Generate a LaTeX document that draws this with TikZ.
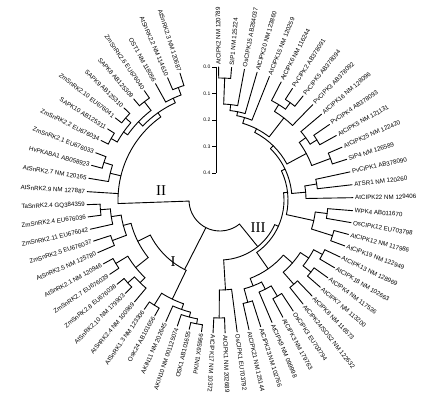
\documentclass[tikz,border=0pt]{standalone}
\usepackage{fontspec}
\setmainfont{Liberation Sans}
\newfontfamily\romanfont{Liberation Serif}
\tikzset{
 br/.style={line width=0.9pt, line cap=round},
 lab/.style={font=\fontsize{6.2}{7}\selectfont, inner sep=1pt},
 grp/.style={font=\romanfont\fontsize{15}{15}\selectfont, inner sep=0pt},
 sc/.style={font=\fontsize{5}{6}\selectfont, inner sep=1pt, anchor=east}
}
\newcommand\rad[3]{\draw[br] (#1:#2) -- (#1:#3);}
\newcommand\arcr[3]{\draw[br] (#2:#1) arc[start angle=#2, end angle=#3, radius=#1];}
\newcommand\leafW[3]{\node[lab,anchor=west,rotate=#1] (#2) at (#1:134) {#3};}
\newcommand\leafE[3]{\node[lab,anchor=east,rotate=#1-180] (#2) at (#1:134) {#3};}
\begin{document}
\begin{tikzpicture}[x=1pt,y=1pt]
\useasboundingbox (0,0) rectangle (431,402);
\begin{scope}[shift={(220,202)}]
% ---------- root ----------
\arcr{31}{182}{309}
\rad{182}{31}{102}
\rad{243}{31}{78}
\rad{309}{31}{60}
% ---------- group III ----------
\arcr{118}{267}{272.2}
\arcr{90}{269.6}{277.4} \rad{269.6}{90}{118}
\arcr{106}{282.6}{287.8}
\arcr{112}{298.2}{303.4}
\arcr{100}{293}{300.8} \rad{300.8}{100}{112}
\arcr{92}{285.2}{296.9} \rad{285.2}{92}{106} \rad{296.9}{92}{100}
\arcr{112}{308.6}{313.8}
\arcr{116}{319}{324.2}
\arcr{116}{329.4}{334.6}
\arcr{106}{321.6}{332} \rad{321.6}{106}{116} \rad{332}{106}{116}
\arcr{96}{311.2}{326.8} \rad{311.2}{96}{112} \rad{326.8}{96}{106}
\arcr{84}{291.05}{319} \rad{291.05}{84}{92} \rad{319}{84}{96}
\arcr{118}{339.8}{345}
\arcr{108}{350.2}{355.4}
\arcr{96}{342.4}{352.8} \rad{342.4}{96}{118} \rad{352.8}{96}{108}
\arcr{98}{366.6}{372.2}
\arcr{86}{361}{369.4} \rad{369.4}{86}{98}
\arcr{118}{377.8}{383.4}
\arcr{114}{389}{394.6}
\arcr{106}{391.8}{400.2} \rad{391.8}{106}{114}
\arcr{98}{380.6}{396} \rad{380.6}{98}{118} \rad{396}{98}{106}
\arcr{120}{411.4}{417}
\arcr{112}{414.2}{422.6} \rad{414.2}{112}{120}
\arcr{104}{405.8}{418.4} \rad{418.4}{104}{112}
\arcr{122}{445}{450.6}
\arcr{96}{439.4}{447.8} \rad{447.8}{96}{122}
\arcr{90}{433.8}{443.6} \rad{443.6}{90}{96}
\arcr{86}{428.2}{438.7} \rad{438.7}{86}{90}
\arcr{80}{412.1}{433.45} \rad{412.1}{80}{104} \rad{433.45}{80}{86}
\arcr{76}{388.3}{422.8} \rad{388.3}{76}{98} \rad{422.8}{76}{80}
\arcr{72}{365.2}{405.55} \rad{365.2}{72}{86} \rad{405.55}{72}{76}
\arcr{68}{347.6}{385.4} \rad{347.6}{68}{96} \rad{385.4}{68}{72}
\arcr{64}{305}{366.5} \rad{305}{64}{84} \rad{366.5}{64}{68}
\arcr{60}{273.5}{335.75} \rad{273.5}{60}{90} \rad{335.75}{60}{64}
% leaves III
\rad{267}{118}{133} \rad{272.2}{118}{133}
\rad{277.4}{90}{133}
\rad{282.6}{106}{133} \rad{287.8}{106}{133}
\rad{293}{100}{133}
\rad{298.2}{112}{133} \rad{303.4}{112}{133}
\rad{308.6}{112}{133} \rad{313.8}{112}{133}
\rad{319}{116}{133} \rad{324.2}{116}{133}
\rad{329.4}{116}{133} \rad{334.6}{116}{133}
\rad{339.8}{118}{133} \rad{345}{118}{133}
\rad{350.2}{108}{133} \rad{355.4}{108}{133}
\rad{361}{86}{133}
\rad{366.6}{98}{133} \rad{372.2}{98}{133}
\rad{377.8}{118}{133} \rad{383.4}{118}{133}
\rad{389}{114}{133} \rad{394.6}{114}{133}
\rad{400.2}{106}{133}
\rad{405.8}{104}{133}
\rad{411.4}{120}{133} \rad{417}{120}{133}
\rad{422.6}{112}{133}
\rad{428.2}{86}{133}
\rad{433.8}{90}{133}
\rad{439.4}{96}{133}
\rad{445}{122}{133} \rad{450.6}{122}{133}
\leafW{267}{t0}{AtCIPK17 NM 10372}
\leafW{272.2}{t1}{AtCIPK1 NM 202689}
\leafW{277.4}{t2}{OsCIPK1 EU703792}
\leafW{282.6}{t3}{AtCIPK21 NM 125144}
\leafW{287.8}{t4}{AtCIPK23 NM 102766}
\leafW{293}{t5}{AtCIPK9 NM 099998}
\leafW{298.2}{t6}{AtCIPK3 NM 179763}
\leafW{303.4}{t7}{OsCIPK3 EU703794}
\leafW{308.6}{t8}{AtCIPK24/SOS2 NM 122632}
\leafW{313.8}{t9}{AtCIPK8 NM 116573}
\leafW{319}{t10}{AtCIPK7 NM 113200}
\leafW{324.2}{t11}{AtCIPK4 NM 117536}
\leafW{329.4}{t12}{AtCIPK18 NM 102663}
\leafW{334.6}{t13}{AtCIPK13 NM 128969}
\leafW{339.8}{t14}{AtCIPK19 NM 122949}
\leafW{345}{t15}{AtCIPK12 NM 117986}
\leafW{350.2}{t16}{OsCIPK12 EU703798}
\leafW{355.4}{t17}{WPK4 AB011670}
\leafW{361}{t18}{AtCIPK22 NM 129406}
\leafW{366.6}{t19}{ATSR1 NM 120260}
\leafW{372.2}{t20}{PvCIPK1 AB378090}
\leafW{377.8}{t21}{SIP4 NM 126589}
\leafW{383.4}{t22}{AtCIPK25 NM 122420}
\leafW{389}{t23}{AtCIPK5 NM 121131}
\leafW{394.6}{t24}{PvCIPK4 AB378093}
\leafW{400.2}{t25}{AtCIPK16 NM 128096}
\leafW{405.8}{t26}{PvCIPK3 AB378092}
\leafW{411.4}{t27}{PvCIPK5 AB378094}
\leafW{417}{t28}{PvCIPK2 AB378091}
\leafW{422.6}{t29}{AtCIPK6 NM 116244}
\leafW{428.2}{t30}{AtCIPK15 NM 120259}
\leafW{433.8}{t31}{AtCIPK20 NM 123860}
\leafW{439.4}{t32}{OsCIPK15 AB264037}
\leafW{445}{t33}{SIP1 NM 125224}
\leafW{450.6}{t34}{AtCIPK2 NM 120789}
% ---------- group II ----------
\arcr{120}{107.5}{113.2}
\arcr{112}{110.35}{119} \rad{110.35}{112}{120}
\arcr{124}{124.7}{130.5}
\arcr{125}{136.2}{141.9}
\arcr{125}{147.7}{153.4}
\arcr{118}{139.05}{150.55} \rad{139.05}{118}{125} \rad{150.55}{118}{125}
\arcr{113}{127.6}{144.8} \rad{127.6}{113}{124} \rad{144.8}{113}{118}
\arcr{107}{114.7}{136.2} \rad{114.7}{107}{112} \rad{136.2}{107}{113}
\arcr{122}{159.2}{164.9}
\arcr{113}{162.05}{170.6} \rad{162.05}{113}{122}
\arcr{102}{125.45}{182} \rad{125.45}{102}{107} \rad{166.3}{102}{113}
\rad{107.5}{120}{133} \rad{113.2}{120}{133}
\rad{119}{112}{133}
\rad{124.7}{124}{133} \rad{130.5}{124}{133}
\rad{136.2}{125}{133} \rad{141.9}{125}{133}
\rad{147.7}{125}{133} \rad{153.4}{125}{133}
\rad{159.2}{122}{133} \rad{164.9}{122}{133}
\rad{170.6}{113}{133}
\rad{176.4}{102}{133}
\leafE{107.5}{s0}{AtSnRK2.3 NM 120687}
\leafE{113.2}{s1}{AtSnRK2.2 NM 114610}
\leafE{119}{s2}{OST1 NM 118056}
\leafE{124.7}{s3}{ZmSnRK2.6 EU676040}
\leafE{130.5}{s4}{SAPK8 AB125309}
\leafE{136.2}{s5}{SAPK9 AB125310}
\leafE{141.9}{s6}{ZmSnRK2.10 EU676041}
\leafE{147.7}{s7}{SAPK10 AB125311}
\leafE{153.4}{s8}{ZmSnRK2.2 EU676034}
\leafE{159.2}{s9}{ZmSnRK2.1 EU676033}
\leafE{164.9}{s10}{HvPKABA1 AB058923}
\leafE{170.6}{s11}{AtSnRK2.7 NM 120165}
\leafE{176.4}{s12}{AtSnRK2.9 NM 127887}
% ---------- group I ----------
\arcr{120}{182}{187.3}
\arcr{110}{184.65}{192.7} \rad{184.65}{110}{120}
\arcr{115}{198}{203.3}
\arcr{100}{188.7}{200.65} \rad{188.7}{100}{110} \rad{200.65}{100}{115}
\arcr{122}{208.7}{214}
\arcr{124}{219.3}{224.6}
\arcr{115}{221.95}{230} \rad{221.95}{115}{124}
\arcr{108}{211.35}{225.98} \rad{211.35}{108}{122} \rad{225.98}{108}{115}
\arcr{92}{194.7}{218.7} \rad{194.7}{92}{100} \rad{218.7}{92}{108}
\arcr{124}{235.3}{240.6}
\arcr{126}{256.6}{262}
\arcr{121}{251.3}{259.3} \rad{259.3}{121}{126}
\arcr{116}{246}{255.3} \rad{255.3}{116}{121}
\arcr{110}{237.95}{250.65} \rad{237.95}{110}{124} \rad{250.65}{110}{116}
\arcr{78}{206.7}{244.3} \rad{206.7}{78}{92} \rad{244.3}{78}{110}
\rad{182}{120}{133} \rad{187.3}{120}{133}
\rad{192.7}{110}{133}
\rad{198}{115}{133} \rad{203.3}{115}{133}
\rad{208.7}{122}{133} \rad{214}{122}{133}
\rad{219.3}{124}{133} \rad{224.6}{124}{133}
\rad{230}{115}{133}
\rad{235.3}{124}{133} \rad{240.6}{124}{133}
\rad{246}{116}{133}
\rad{251.3}{121}{133}
\rad{256.6}{126}{133} \rad{262}{126}{133}
\leafE{182}{u0}{TaSnRK2.4 GQ384359}
\leafE{187.3}{u1}{ZmSnRK2.4 EU676036}
\leafE{192.7}{u2}{ZmSnRK2.11 EU676042}
\leafE{198}{u3}{ZmSnRK2.5 EU676037}
\leafE{203.3}{u4}{AtSnRK2.5 NM 125780}
\leafE{208.7}{u5}{AtSnRK2.1 NM 120946}
\leafE{214}{u6}{ZmSnRK2.7 EU676039}
\leafE{219.3}{u7}{ZmSnRK2.8 EU676038}
\leafE{224.6}{u8}{AtSnRK2.10 NM 179903}
\leafE{230}{u9}{AtSnRK2.4 NM 100969}
\leafE{235.3}{u10}{AtSnRK1.3 NM 123306}
\leafE{240.6}{u11}{OsK24 AB101656}
\leafE{246}{u12}{AKIN11 NM 202645}
\leafE{251.3}{u13}{AKIN10 NM 001125074}
\leafE{256.6}{u14}{OSK1 AB101655}
\leafE{262}{u15}{PKIN1 X95966}
\end{scope}
% ---------- group labels ----------
\node[grp] (gII) at (161,211) {II};
\node[grp] (gIII) at (258,174) {III};
\node[grp] (gI) at (173,140) {I};
% ---------- scale bar ----------
\coordinate (ax0) at (216,335);
\coordinate (ax4) at (216,229);
\draw[line width=0.7pt] (ax0) -- (ax4);
\foreach \v/\y in {0.0/335,0.1/308.5,0.2/282,0.3/255.5,0.4/229}{
  \draw[line width=0.7pt] (212,\y) -- (216,\y);
  \node[sc] (sc\y) at (211.5,\y) {\v};
}
\end{tikzpicture}
\end{document}
